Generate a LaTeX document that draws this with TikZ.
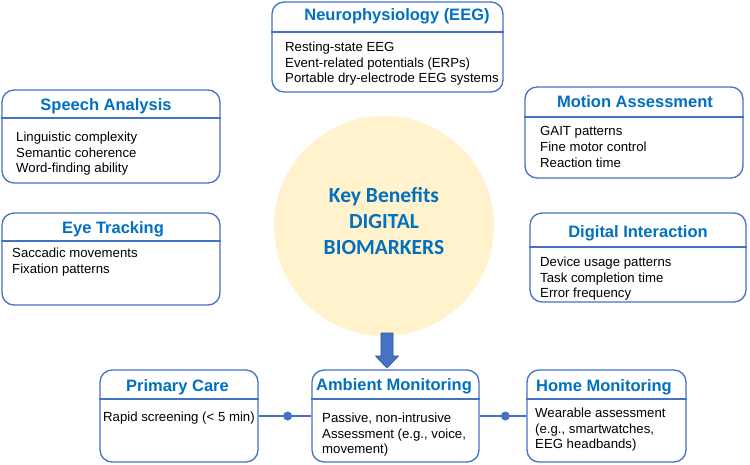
\documentclass[tikz,border=0pt]{standalone}
\usepackage{fontspec}
\setmainfont{Liberation Sans}
\newfontfamily\carlito{Carlito}
\definecolor{bordblue}{HTML}{4472C4}
\definecolor{titleblue}{HTML}{0070C0}
\definecolor{circfill}{HTML}{FFF2CC}
\definecolor{arrowedge}{HTML}{2F528F}
\tikzset{
  box/.style={draw=bordblue, line width=1.3pt, rounded corners=12pt, rectangle, inner sep=0pt, fill=white},
  sepline/.style={draw=bordblue, line width=1.1pt},
  boxtitle/.style={anchor=base, inner sep=0pt, text=titleblue, font=\fontsize{16.5}{19}\selectfont\bfseries},
  boxbody/.style={anchor=north west, inner sep=0pt, align=left, text=black, font=\fontsize{13.2}{15.8}\selectfont},
  conn/.style={draw=bordblue, line width=1.5pt},
  dot/.style={circle, fill=bordblue, inner sep=0pt, minimum size=9pt},
  blockarrow/.style={fill=bordblue, draw=arrowedge, line width=0.6pt},
}
\newcommand\mkbox[6]{%
  \node[box, minimum width={(#4-#2)*1pt}, minimum height={(#5-#3)*1pt}] (#1) at ({(#2+#4)/2},{(#3+#5)/2}) {};
  \draw[sepline] (#1.west |- 0,#6) -- (#1.east |- 0,#6);
}
\begin{document}
\begin{tikzpicture}[x=1pt,y=-1pt]
\useasboundingbox (0,0) rectangle (750,464);
% central circle
\node[circle, fill=circfill, minimum size=220pt, inner sep=0pt] (circ) at (384,226) {};
\node[inner sep=0pt, align=center, text=titleblue, font=\carlito\fontsize{21.5}{26}\selectfont\bfseries] (kb) at (384,221) {Key Benefits\\DIGITAL\\BIOMARKERS};

% boxes
\mkbox{neuro}{272}{2}{503}{92}{32}
\node[boxtitle] (neuro-t) at (397,20.9) {Neurophysiology (EEG)};
\node[boxbody] (neuro-b) at (285,41.5) {Resting-state EEG\\Event-related potentials (ERPs)\\Portable dry-electrode EEG systems};

\mkbox{speech}{2}{90}{220}{183}{118}
\node[boxtitle] (speech-t) at (106,110.9) {Speech Analysis};
\node[boxbody] (speech-b) at (16,131.5) {Linguistic complexity\\Semantic coherence\\Word-finding ability};

\mkbox{motion}{525}{87}{743}{178}{117}
\node[boxtitle] (motion-t) at (635,107.9) {Motion Assessment};
\node[boxbody] (motion-b) at (540,126.5) {GAIT patterns\\Fine motor control\\Reaction time};

\mkbox{eye}{2}{213}{220}{305}{241}
\node[boxtitle] (eye-t) at (113,233.9) {Eye Tracking};
\node[boxbody] (eye-b) at (12,247.5) {Saccadic movements\\Fixation patterns};

\mkbox{digital}{530}{213}{746}{302}{247}
\node[boxtitle] (digital-t) at (638,237.9) {Digital Interaction};
\node[boxbody] (digital-b) at (540,256.5) {Device usage patterns\\Task completion time\\Error frequency};

\mkbox{pc}{100}{370}{258}{462}{399}
\node[boxtitle] (pc-t) at (177.5,391.9) {Primary Care};
\node[boxbody] (pc-b) at (103,411.5) {Rapid screening (< 5 min)};

\mkbox{am}{312}{370}{479}{462}{399}
\node[boxtitle] (am-t) at (394,390.9) {Ambient Monitoring};
\node[boxbody] (am-b) at (322,412.5) {Passive, non-intrusive\\Assessment (e.g., voice,\\movement)};

\mkbox{hm}{527}{370}{686}{462}{399}
\node[boxtitle] (hm-t) at (604,391.9) {Home Monitoring};
\node[boxbody] (hm-b) at (535,407.5) {Wearable assessment\\(e.g., smartwatches,\\EEG headbands)};

% block arrow from circle to ambient box
\coordinate (atop) at (387,333);
\draw[blockarrow] ([xshift=-6pt]atop) -- ([xshift=6pt]atop) -- ++(0,23) -- ++(5.5,0) -- (387,368) -- (375.5,356) -- (381,356) -- cycle;

% connectors
\draw[conn] (pc.east) -- node[dot, pos=0.55] (d1) {} (am.west);
\draw[conn] (am.east) -- node[dot, pos=0.55] (d2) {} (hm.west);
\end{tikzpicture}
\end{document}
